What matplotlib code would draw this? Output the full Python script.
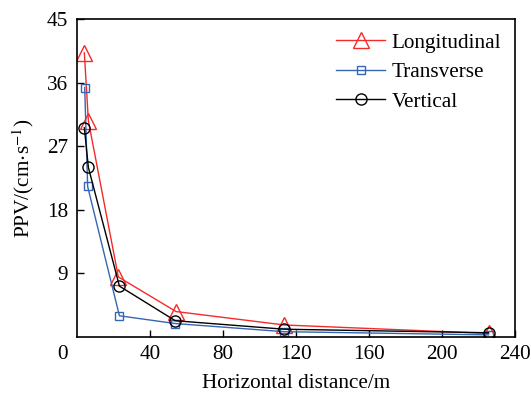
import matplotlib
matplotlib.use("Agg")
import matplotlib.pyplot as plt

plt.rcParams['font.family'] = ['Liberation Serif', 'DejaVu Serif']
plt.rcParams['mathtext.fontset'] = 'stix'

dist_long = [4.2, 6.4, 22.8, 54.4, 113.6, 225.5]
ppv_long = [40.2, 30.6, 8.5, 3.6, 1.7, 0.5]
dist_trans = [4.4, 6.0, 23.4, 54.0, 113.6, 225.5]
ppv_trans = [35.3, 21.3, 3.0, 1.9, 0.75, 0.3]
dist_vert = [4.2, 6.4, 23.4, 54.0, 113.6, 225.5]
ppv_vert = [29.6, 24.0, 7.2, 2.3, 1.1, 0.6]

xticks = [40, 80, 120, 160, 200, 240]
yticks = [9, 18, 27, 36, 45]

FS = 15.3

fig = plt.figure(figsize=(5.31, 3.94), dpi=100)
ax = fig.add_axes([0.1444, 0.1447, 0.9699 - 0.1444, 0.9518 - 0.1447])

red = '#f52a2a'
blue = '#3566b5'
ax.plot(dist_long, ppv_long, color=red, lw=1.0, marker='^', ms=11,
        mfc='none', mec=red, mew=1.0, label='Longitudinal')
ax.plot(dist_trans, ppv_trans, color=blue, lw=1.0, marker='s', ms=6.3,
        mfc='none', mec=blue, mew=1.0, label='Transverse')
ax.plot(dist_vert, ppv_vert, color='black', lw=1.0, marker='o', ms=8,
        mfc='none', mec='black', mew=1.0, label='Vertical')

ax.set_xlim(0, 240)
ax.set_ylim(0, 45)
ax.set_xticks(xticks)
ax.set_yticks(yticks)
ax.tick_params(direction='in', labelsize=FS, length=5, width=1, pad=6)
for s in ax.spines.values():
    s.set_linewidth(1.2)

ax.annotate('0', xy=(0, 0), xycoords='data', xytext=(-14, -18),
            textcoords='offset pixels', ha='center', va='center', fontsize=FS)

ax.set_xlabel('Horizontal distance/m', fontsize=FS, labelpad=7)
ax.set_ylabel(r'PPV/(cm$\cdot$s$^{-1}$)', fontsize=FS, labelpad=8)

ax.legend(loc='upper right', frameon=False, fontsize=FS, handlelength=2.3,
          handletextpad=0.3, labelspacing=0.45, borderaxespad=0.25)

fig.savefig('out.png', dpi=100)
